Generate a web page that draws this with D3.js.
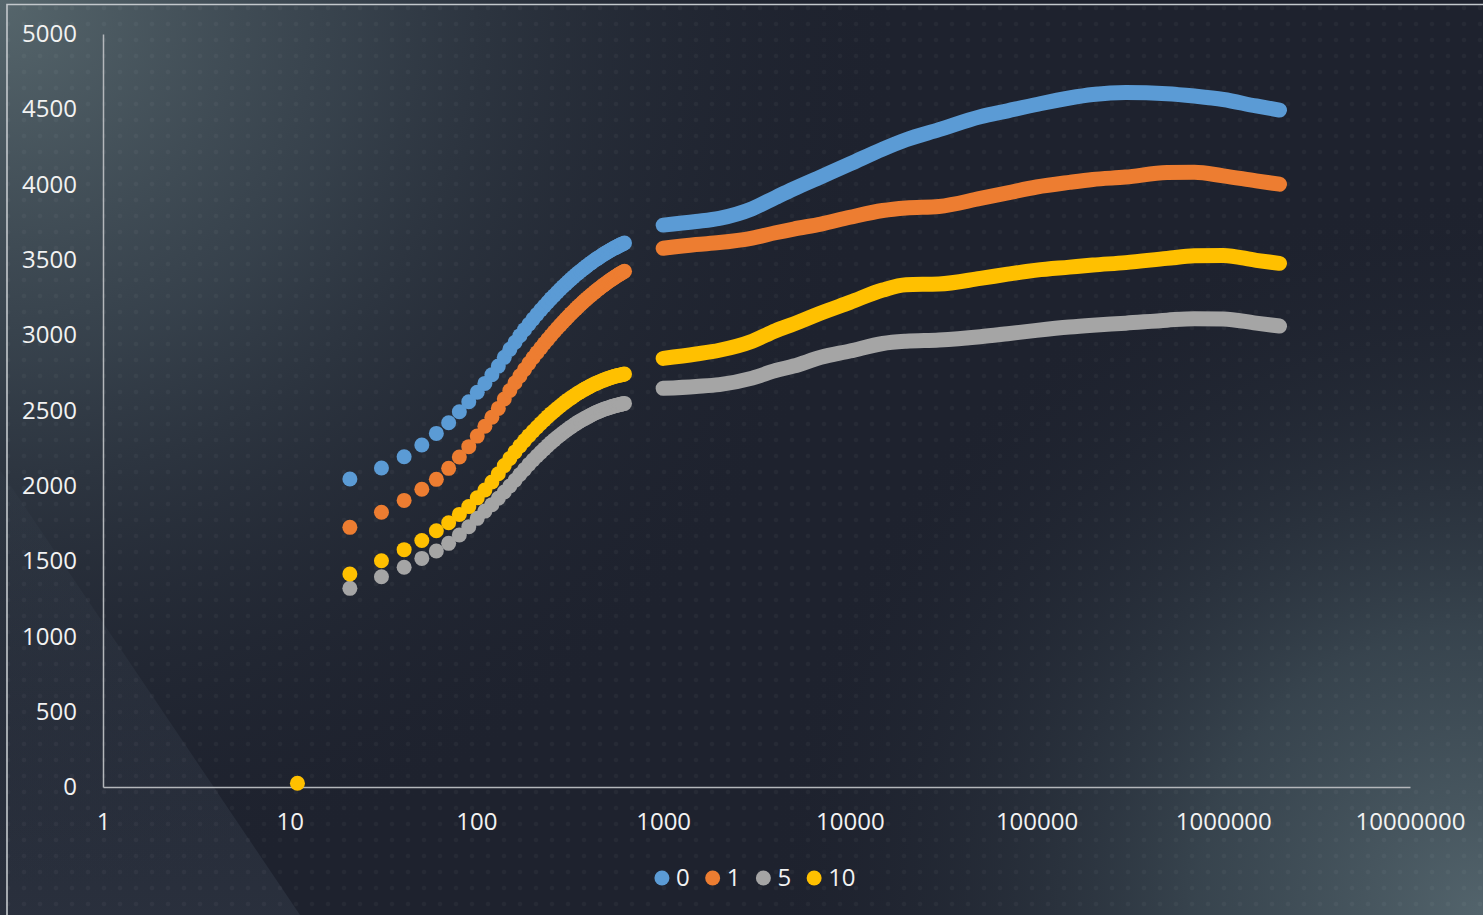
<!DOCTYPE html>
<html>
<head>
<meta charset="utf-8">
<script src="https://cdn.jsdelivr.net/npm/d3@7"></script>
<style>
  html, body { margin: 0; padding: 0; background: #1f2430; }
  svg { display: block; }
  text { font-family: "Open Sans", "Noto Sans", sans-serif; }
</style>
</head>
<body>
<svg id="chart" width="1483" height="915"></svg>
<script>
// ---- data -------------------------------------------------------------
const seriesNames = ["0", "1", "5", "10"];
const seriesColors = ["#5b9bd5", "#ed7d31", "#a5a5a5", "#ffc000"];

// low-range sweep (x = 21 ... 621)
const xLow = [21, 31, 41, 51, 61, 71, 81, 91, 101, 111, 121, 131, 141, 151, 161, 171, 181, 191, 201, 211,
  221, 231, 241, 251, 261, 271, 281, 291, 301, 311, 321, 331, 341, 351, 361, 371, 381, 391, 401, 411,
  421, 431, 441, 451, 461, 471, 481, 491, 501, 511, 521, 531, 541, 551, 561, 571, 581, 591, 601, 611, 621];

const lowS0 = [2045, 2118, 2193, 2271, 2348, 2419, 2492, 2558, 2621, 2680, 2737, 2795, 2853, 2906, 2953, 2997, 3037, 3073, 3107, 3138,
  3167, 3194, 3219, 3243, 3264, 3285, 3305, 3323, 3340, 3357, 3372, 3387, 3401, 3414, 3426, 3438, 3449, 3460, 3471, 3480,
  3490, 3499, 3507, 3515, 3523, 3531, 3538, 3545, 3551, 3557, 3564, 3569, 3575, 3580, 3585, 3590, 3595, 3600, 3604, 3608, 3612];
const lowS1 = [1724, 1824, 1903, 1977, 2043, 2116, 2191, 2260, 2330, 2395, 2455, 2514, 2576, 2633, 2684, 2730, 2773, 2813, 2850, 2884,
  2915, 2945, 2972, 2998, 3023, 3046, 3067, 3088, 3107, 3125, 3143, 3159, 3175, 3190, 3204, 3218, 3231, 3243, 3255, 3266,
  3277, 3288, 3298, 3307, 3317, 3325, 3334, 3342, 3350, 3358, 3365, 3372, 3379, 3385, 3392, 3398, 3404, 3409, 3415, 3420, 3425];
const lowS5 = [1319, 1396, 1459, 1518, 1567, 1618, 1673, 1728, 1784, 1832, 1875, 1917, 1959, 1999, 2037, 2075, 2109, 2142, 2171, 2198,
  2222, 2245, 2267, 2287, 2305, 2322, 2337, 2352, 2366, 2379, 2391, 2402, 2413, 2423, 2432, 2440, 2448, 2456, 2463, 2470,
  2477, 2483, 2488, 2494, 2499, 2504, 2508, 2512, 2515, 2519, 2522, 2526, 2529, 2532, 2534, 2537, 2539, 2541, 2543, 2545, 2547];
const lowS10 = [1414, 1502, 1576, 1637, 1702, 1755, 1810, 1862, 1920, 1972, 2025, 2080, 2134, 2182, 2225, 2265, 2300, 2333, 2362, 2389,
  2414, 2437, 2459, 2479, 2497, 2514, 2530, 2545, 2559, 2572, 2584, 2595, 2606, 2616, 2625, 2634, 2642, 2650, 2657, 2664,
  2671, 2677, 2682, 2688, 2693, 2698, 2702, 2706, 2710, 2714, 2717, 2721, 2724, 2727, 2729, 2732, 2734, 2736, 2738, 2740, 2742];

// high-range sweep (x = 1e3 ... 2e6), dense run
const xHigh = [1000, 1500, 2000, 3000, 4000, 5000, 7000, 10000, 15000, 20000, 30000, 50000, 70000,
  100000, 150000, 200000, 300000, 500000, 700000, 1000000, 1500000, 2000000];
const highS0 = [3731, 3755, 3776, 3840, 3915, 3972, 4052, 4137, 4236, 4298, 4365, 4450, 4490,
  4532, 4575, 4598, 4612, 4604, 4588, 4565, 4522, 4495];
const highS1 = [3577, 3602, 3615, 3645, 3680, 3705, 3738, 3783, 3828, 3845, 3855, 3908, 3945,
  3984, 4015, 4034, 4050, 4080, 4082, 4058, 4025, 4003];
const highS5 = [2647, 2660, 2672, 2715, 2765, 2795, 2853, 2895, 2945, 2960, 2968, 2990, 3010,
  3032, 3054, 3066, 3080, 3100, 3110, 3108, 3080, 3061];
const highS10 = [2846, 2875, 2900, 2960, 3030, 3075, 3147, 3218, 3300, 3335, 3340, 3377, 3405,
  3432, 3452, 3466, 3482, 3510, 3527, 3530, 3497, 3477];

// isolated reading of series "10"
const loneX = [11];
const loneS10 = [25];

const xTicks = [1, 10, 100, 1000, 10000, 100000, 1000000, 10000000];
const yTicks = [0, 500, 1000, 1500, 2000, 2500, 3000, 3500, 4000, 4500, 5000];

// ---- layout ----------------------------------------------------------
const W = 1483, H = 915;
const svg = d3.select("#chart");
const defs = svg.append("defs");

// background: dark slate with lighter corners and a faint dot texture
const gTL = defs.append("radialGradient").attr("id", "glowTL")
  .attr("cx", 0).attr("cy", 0).attr("r", 900).attr("gradientUnits", "userSpaceOnUse");
gTL.append("stop").attr("offset", "0").attr("stop-color", "#56666c").attr("stop-opacity", 1);
gTL.append("stop").attr("offset", "0.4").attr("stop-color", "#3c4852").attr("stop-opacity", 0.8);
gTL.append("stop").attr("offset", "1").attr("stop-color", "#1f2430").attr("stop-opacity", 0);

const gBR = defs.append("radialGradient").attr("id", "glowBR")
  .attr("cx", W).attr("cy", H).attr("r", 720).attr("gradientUnits", "userSpaceOnUse");
gBR.append("stop").attr("offset", "0").attr("stop-color", "#53646c").attr("stop-opacity", 1);
gBR.append("stop").attr("offset", "0.4").attr("stop-color", "#42525b").attr("stop-opacity", 0.7);
gBR.append("stop").attr("offset", "1").attr("stop-color", "#1f2430").attr("stop-opacity", 0);

const gBL = defs.append("linearGradient").attr("id", "shadeBL")
  .attr("x1", 0).attr("y1", 480).attr("x2", 0).attr("y2", H).attr("gradientUnits", "userSpaceOnUse");
gBL.append("stop").attr("offset", "0").attr("stop-color", "#66788a").attr("stop-opacity", 0.04);
gBL.append("stop").attr("offset", "1").attr("stop-color", "#66788a").attr("stop-opacity", 0.16);

const dots = defs.append("pattern").attr("id", "dotTex")
  .attr("width", 16).attr("height", 16).attr("patternUnits", "userSpaceOnUse");
dots.append("circle").attr("cx", 8).attr("cy", 8).attr("r", 2.2)
  .attr("fill", "#ffffff").attr("fill-opacity", 0.035);

svg.append("rect").attr("width", W).attr("height", H).attr("fill", "#1e222e");
svg.append("rect").attr("width", W).attr("height", H).attr("fill", "url(#glowTL)");
svg.append("rect").attr("width", W).attr("height", H).attr("fill", "url(#glowBR)");
svg.append("path").attr("d", `M0,470 L300,${H} L0,${H} Z`).attr("fill", "url(#shadeBL)");
svg.append("rect").attr("width", W).attr("height", H).attr("fill", "url(#dotTex)");

// outer frame lines
svg.append("path").attr("d", `M7,${H} L7,4.5 L${W},4.5`)
  .attr("fill", "none").attr("stroke", "#c3c8cc").attr("stroke-width", 1.6);

// ---- scales & axes ----------------------------------------------------
const x = d3.scaleLog().domain([1, 1e7]).range([103, 1410]);
const y = d3.scaleLinear().domain([0, 5000]).range([787, 34]);

const axisColor = "#b4b7bb";
const textColor = "#f2f2f2";

const yAxis = svg.append("g").attr("transform", `translate(${x(1)},0)`)
  .call(d3.axisLeft(y).tickValues(yTicks).tickFormat(d3.format("d")).tickSize(0).tickPadding(26));
yAxis.select(".domain").attr("stroke", axisColor).attr("stroke-width", 1.5);
yAxis.selectAll("text").attr("fill", textColor).attr("font-size", 24)
  .attr("font-family", "'Open Sans', 'Noto Sans', sans-serif");

const xAxis = svg.append("g").attr("transform", `translate(0,${y(0)})`)
  .call(d3.axisBottom(x).tickValues(xTicks).tickFormat(d3.format("d")).tickSize(0).tickPadding(0));
xAxis.select(".domain").attr("stroke", axisColor).attr("stroke-width", 1.5);
xAxis.selectAll("text").attr("fill", textColor).attr("font-size", 24)
  .attr("font-family", "'Open Sans', 'Noto Sans', sans-serif")
  .attr("y", 35).attr("dy", "0.35em");

// ---- series -------------------------------------------------------------
const lowSeries = [lowS0, lowS1, lowS5, lowS10];
const highSeries = [highS0, highS1, highS5, highS10];
const R = 7.5;

const line = d3.line().x(d => x(d[0])).y(d => y(d[1])).curve(d3.curveMonotoneX);

seriesNames.forEach((name, i) => {
  const g = svg.append("g").attr("class", "series s" + i);
  const color = seriesColors[i];

  // dense high-range run drawn as a continuous band of markers
  g.append("path")
    .datum(xHigh.map((xv, k) => [xv, highSeries[i][k]]))
    .attr("d", line)
    .attr("fill", "none").attr("stroke", color)
    .attr("stroke-width", R * 2).attr("stroke-linecap", "round").attr("stroke-linejoin", "round");

  // individual markers of the low-range sweep
  g.selectAll("circle.low")
    .data(xLow.map((xv, k) => [xv, lowSeries[i][k]]))
    .join("circle").attr("class", "low")
    .attr("cx", d => x(d[0])).attr("cy", d => y(d[1])).attr("r", R).attr("fill", color);

  if (name === "10") {
    g.selectAll("circle.lone")
      .data(loneX.map((xv, k) => [xv, loneS10[k]]))
      .join("circle").attr("class", "lone")
      .attr("cx", d => x(d[0])).attr("cy", d => y(d[1])).attr("r", R).attr("fill", color);
  }
});

// ---- legend ------------------------------------------------------------
const legend = svg.append("g").attr("class", "legend");
const items = legend.selectAll("g").data(seriesNames).join("g");
items.append("circle").attr("r", R).attr("fill", (d, i) => seriesColors[i]);
items.append("text").text(d => d).attr("x", 14).attr("dy", "0.35em")
  .attr("fill", textColor).attr("font-size", 24)
  .attr("font-family", "'Open Sans', 'Noto Sans', sans-serif");

let cursor = 0;
const offsets = [];
items.each(function () {
  const tw = d3.select(this).select("text").node().getComputedTextLength();
  offsets.push(cursor);
  cursor += 14 + tw + 23;
});
const totalW = cursor - 23 + R;
const startX = 755 - totalW / 2 + R;
items.attr("transform", (d, i) => `translate(${startX + offsets[i]},878)`);
</script>
</body>
</html>
